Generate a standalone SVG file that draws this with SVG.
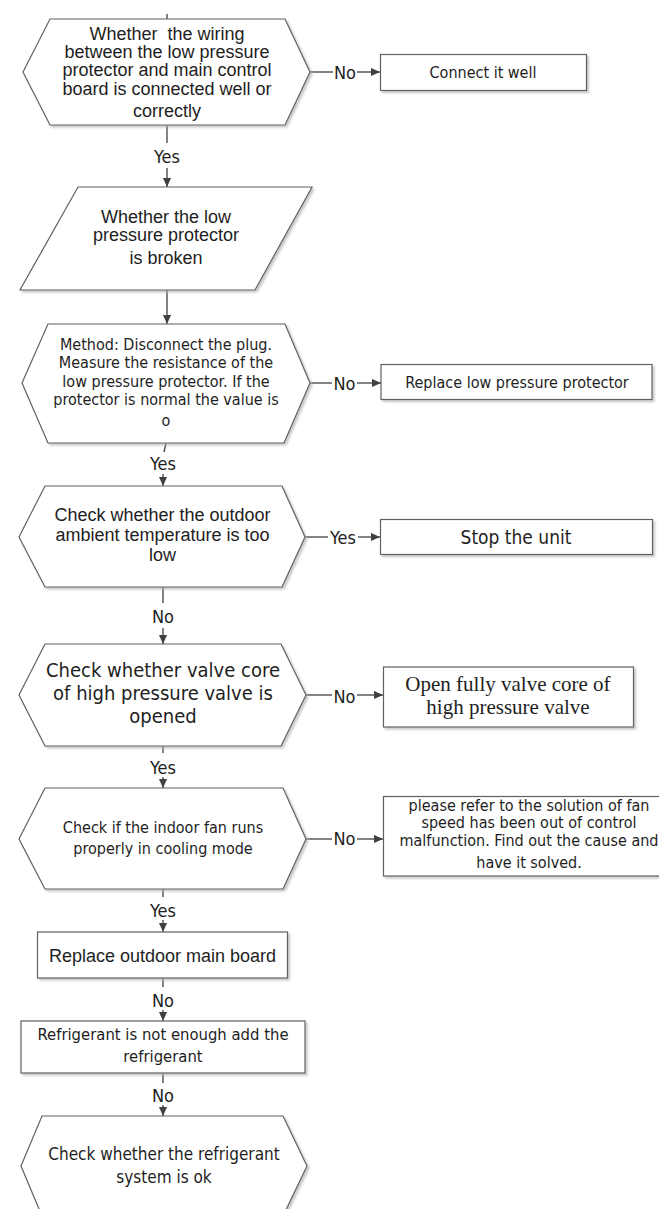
<svg xmlns="http://www.w3.org/2000/svg" width="659" height="1209" viewBox="0 0 659 1209">
<defs>
<filter id="sh" x="-5%" y="-5%" width="115%" height="120%">
<feDropShadow dx="2" dy="2" stdDeviation="0.8" flood-color="#b0b0b0" flood-opacity="0.7"/>
</filter>
<marker id="ar" viewBox="0 0 10 10" refX="10" refY="5" markerWidth="9" markerHeight="9" markerUnits="userSpaceOnUse" orient="auto">
<path d="M0,0.5 L10,5 L0,9.5 Z" fill="#404040"/>
</marker>
<style>
.shape{fill:#fff;stroke:#606060;stroke-width:1.2;filter:url(#sh)}
.ar{font-family:'Liberation Sans',Arial,sans-serif;font-size:18px;fill:#1e1e1e;text-anchor:middle}
.ta{font-family:'DejaVu Sans Condensed','DejaVu Sans',sans-serif;font-stretch:condensed;font-size:16px;fill:#1e1e1e;text-anchor:middle}
.tm{font-family:'Liberation Serif','Times New Roman',serif;font-size:21px;fill:#1e1e1e;text-anchor:middle}
.lb{font-family:'DejaVu Sans Condensed','DejaVu Sans',sans-serif;font-stretch:condensed;font-size:18px;fill:#1e1e1e;text-anchor:middle}
.c{stroke:#404040;stroke-width:1.3;fill:none}
</style>
</defs>
<rect width="659" height="1209" fill="#fff"/>

<g id="connectors">
<line class="c" x1="167" y1="14" x2="167" y2="19"/>
<line class="c" x1="310" y1="72" x2="333" y2="72"/>
<line class="c" x1="357" y1="72" x2="380" y2="72" marker-end="url(#ar)"/>
<text class="lb" x="345" y="78.5">No</text>
<line class="c" x1="167" y1="125" x2="167" y2="143"/>
<text class="lb" x="167" y="163">Yes</text>
<line class="c" x1="167" y1="168" x2="167" y2="187" marker-end="url(#ar)"/>
<line class="c" x1="167" y1="290" x2="167" y2="324" marker-end="url(#ar)"/>
<line class="c" x1="310" y1="383" x2="332" y2="383"/>
<text class="lb" x="344.5" y="389.5">No</text>
<line class="c" x1="357" y1="383" x2="381" y2="383" marker-end="url(#ar)"/>
<line class="c" x1="166" y1="443" x2="164" y2="452"/>
<text class="lb" x="163" y="469.5">Yes</text>
<line class="c" x1="163" y1="474" x2="163" y2="486" marker-end="url(#ar)"/>
<line class="c" x1="305" y1="537" x2="328" y2="537"/>
<text class="lb" x="343" y="543.5">Yes</text>
<line class="c" x1="358" y1="537" x2="380" y2="537" marker-end="url(#ar)"/>
<line class="c" x1="163" y1="587" x2="163" y2="603"/>
<text class="lb" x="163" y="623">No</text>
<line class="c" x1="163" y1="628" x2="163" y2="644" marker-end="url(#ar)"/>
<line class="c" x1="306" y1="695" x2="332" y2="695"/>
<text class="lb" x="344.5" y="702.5">No</text>
<line class="c" x1="357" y1="695" x2="383" y2="695" marker-end="url(#ar)"/>
<line class="c" x1="163" y1="746" x2="163" y2="753"/>
<text class="lb" x="163" y="773.5">Yes</text>
<line class="c" x1="163" y1="777" x2="163" y2="788" marker-end="url(#ar)"/>
<line class="c" x1="306" y1="839" x2="332" y2="839"/>
<text class="lb" x="344.5" y="844.5">No</text>
<line class="c" x1="357" y1="839" x2="383" y2="839" marker-end="url(#ar)"/>
<line class="c" x1="163" y1="889" x2="163" y2="897"/>
<text class="lb" x="163" y="916.5">Yes</text>
<line class="c" x1="163" y1="920" x2="163" y2="932" marker-end="url(#ar)"/>
<line class="c" x1="163" y1="978" x2="163" y2="987"/>
<text class="lb" x="163" y="1007">No</text>
<line class="c" x1="163" y1="1010" x2="163" y2="1021" marker-end="url(#ar)"/>
<line class="c" x1="163" y1="1073" x2="163" y2="1083"/>
<text class="lb" x="163" y="1101.5">No</text>
<line class="c" x1="163" y1="1105" x2="163" y2="1116" marker-end="url(#ar)"/>
</g>

<g id="n1">
<polygon class="shape" points="23,72 50,19 285,19 310,72 285,125 50,125"/>
<text class="ar" xml:space="preserve" x="167" y="40">Whether  the wiring</text>
<text class="ar" x="167" y="58">between the low pressure</text>
<text class="ar" x="167" y="76">protector and main control</text>
<text class="ar" x="167" y="94.5">board is connected well or</text>
<text class="ar" x="167" y="117">correctly</text>
</g>

<g id="n2">
<rect class="shape" x="380.5" y="54.5" width="206" height="36"/>
<text class="ta" x="483" y="78">Connect it well</text>
</g>

<g id="n3">
<polygon class="shape" points="78,187 312,187 255,290 20,290"/>
<text class="ar" x="166" y="222.5">Whether the low</text>
<text class="ar" x="166" y="241">pressure protector</text>
<text class="ar" x="166" y="264">is broken</text>
</g>

<g id="n4">
<polygon class="shape" points="22,383 48,324 285,324 310,383 284,443 48,443"/>
<text class="ta" x="166" y="349.5">Method: Disconnect the plug.</text>
<text class="ta" x="166" y="368">Measure the resistance of the</text>
<text class="ta" x="166" y="386.5">low pressure protector. If the</text>
<text class="ta" x="166" y="404.5">protector is normal the value is</text>
<text class="ta" x="166" y="425.5">o</text>
</g>

<g id="n5">
<rect class="shape" x="381" y="364.5" width="271" height="35"/>
<text class="ta" x="517" y="388">Replace low pressure protector</text>
</g>

<g id="n6">
<polygon class="shape" points="19,537 45,486 282,486 305,537 282,587 45,587"/>
<text class="ar" x="162.5" y="521">Check whether the outdoor</text>
<text class="ar" x="162.5" y="541">ambient temperature is too</text>
<text class="ar" x="162.5" y="561">low</text>
</g>

<g id="n7">
<rect class="shape" x="380.5" y="519.5" width="272" height="35"/>
<text class="ta" style="font-size:19px" x="516" y="543.5">Stop the unit</text>
</g>

<g id="n8">
<polygon class="shape" points="19,695 45,644 281,644 306,695 281,746 45,746"/>
<text class="ta" style="font-size:20px" x="163" y="677">Check whether valve core</text>
<text class="ta" style="font-size:20px" x="163" y="700">of high pressure valve is</text>
<text class="ta" style="font-size:20px" x="163" y="723">opened</text>
</g>

<g id="n9">
<rect class="shape" x="383.5" y="667" width="250" height="60"/>
<text class="tm" x="508" y="691">Open fully valve core of</text>
<text class="tm" x="508" y="714">high pressure valve</text>
</g>

<g id="n10">
<polygon class="shape" points="19,839 45,788 283,788 306,839 283,889 45,889"/>
<text class="ta" x="163" y="833">Check if the indoor fan runs</text>
<text class="ta" x="163" y="854">properly in cooling mode</text>
</g>

<g id="n11">
<rect class="shape" x="383.5" y="796.5" width="290" height="79.5"/>
<text class="ta" x="529" y="810.5">please refer to the solution of fan</text>
<text class="ta" x="529" y="828">speed has been out of control</text>
<text class="ta" x="529" y="846">malfunction. Find out the cause and</text>
<text class="ta" x="529" y="868">have it solved.</text>
</g>

<g id="n12">
<rect class="shape" x="37.5" y="932" width="250" height="46"/>
<text class="ar" x="162.5" y="962">Replace outdoor main board</text>
</g>

<g id="n13">
<rect class="shape" x="21" y="1021" width="284" height="52"/>
<text class="ta" style="font-size:16.5px" x="163" y="1040">Refrigerant is not enough add the</text>
<text class="ta" style="font-size:16.5px" x="163" y="1062">refrigerant</text>
</g>

<g id="n14">
<polygon class="shape" points="21,1166 42,1116 283,1116 307,1166 283,1216 42,1216"/>
<text class="ta" style="font-size:17px" x="164" y="1160">Check whether the refrigerant</text>
<text class="ta" style="font-size:17px" x="164" y="1183">system is ok</text>
</g>
</svg>
